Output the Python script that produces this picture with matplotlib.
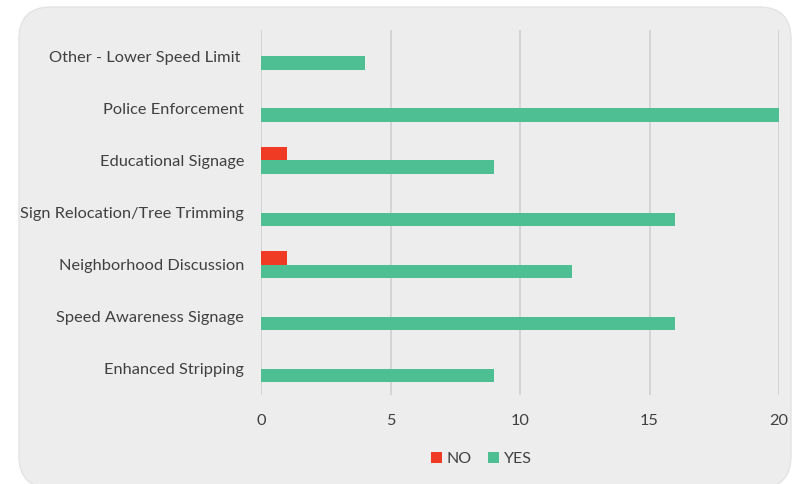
import numpy as np
import matplotlib.pyplot as plt
from matplotlib.patches import FancyBboxPatch
from matplotlib.transforms import IdentityTransform

plt.rcParams['font.family'] = ['Lato', 'DejaVu Sans']

categories = ['Enhanced Stripping', 'Speed Awareness Signage', 'Neighborhood Discussion',
              'Sign Relocation/Tree Trimming', 'Educational Signage', 'Police Enforcement',
              'Other - Lower Speed Limit ']
no_vals = [0, 0, 1, 0, 1, 0, 0]
yes_vals = [9, 16, 12, 16, 9, 20, 4]

red = '#EF3B24'
green = '#4DBF92'
text_col = '#404040'

fig = plt.figure(figsize=(8.08, 4.84), dpi=100)

# rounded grey panel behind the chart
panel = FancyBboxPatch((19, -4), 772, 481, boxstyle='round,pad=0,rounding_size=32',
                       transform=IdentityTransform(), facecolor='#EDEDED',
                       edgecolor='#E3E3E3', linewidth=1, zorder=-5)
fig.patches.append(panel)

ax = fig.add_axes([261 / 808, 1 - 395 / 484, (779 - 261) / 808, (395 - 30) / 484])
ax.set_facecolor('none')
ax.set_zorder(2)

y = np.arange(len(categories))
h = 0.26
ax.barh(y + h / 2, no_vals, height=h, color=red, label='NO', zorder=3)
ax.barh(y - h / 2, yes_vals, height=h, color=green, label='YES', zorder=3)

ax.set_xlim(0, 20)
ax.set_ylim(-0.5, len(categories) - 0.5)
ax.set_xticks([0, 5, 10, 15, 20])
ax.set_yticks(y)
ax.set_yticklabels(categories)
ax.grid(axis='x', color='#D0D0D0', linewidth=1.2, zorder=1)
for s in ax.spines.values():
    s.set_visible(False)
ax.tick_params(axis='both', length=0, labelsize=11.8, colors=text_col)
ax.tick_params(axis='x', pad=14)
ax.tick_params(axis='y', pad=12)

ax.legend(loc='center', bbox_to_anchor=(0.425, -0.175), ncol=2, frameon=False,
          fontsize=11.5, handlelength=0.7, handleheight=0.7, handletextpad=0.3,
          columnspacing=1.0, labelcolor=text_col)

fig.savefig('out.png', dpi=100)
